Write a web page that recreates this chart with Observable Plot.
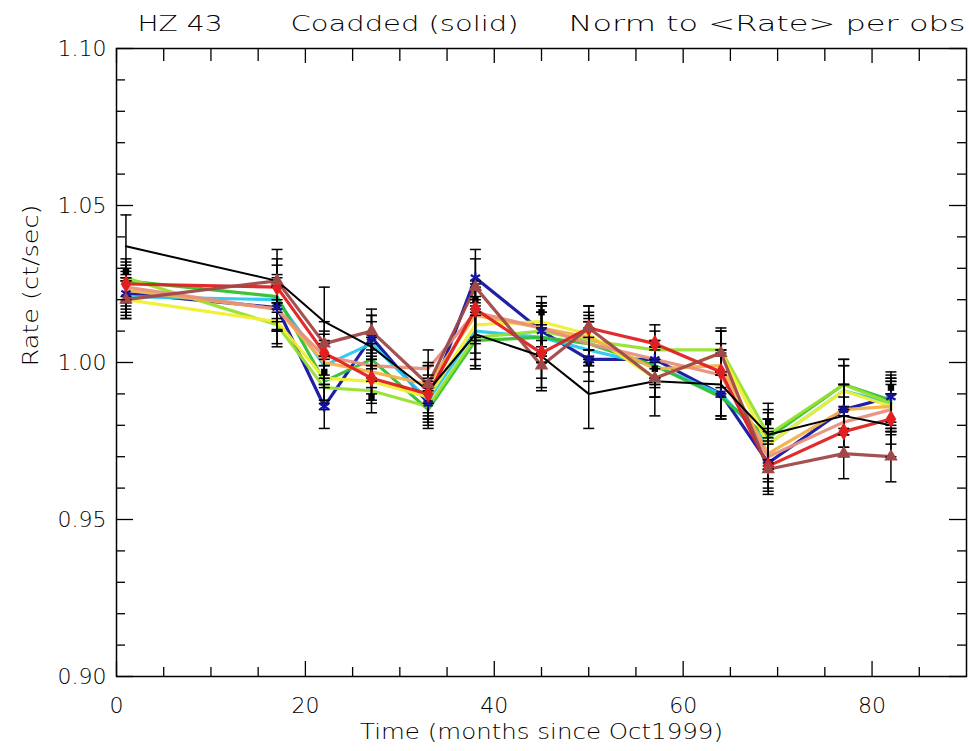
<!DOCTYPE html>
<html>
<head>
<meta charset="utf-8">
<script src="https://cdn.jsdelivr.net/npm/d3@7"></script>
<script src="https://cdn.jsdelivr.net/npm/@observablehq/plot@0.6"></script>
<style>
  html, body { margin: 0; padding: 0; background: #fff; }
  svg text { white-space: pre; }
</style>
</head>
<body>
<div id="chart"></div>
<script>
// ---- data ----
const months = [1, 17, 22, 27, 33, 38, 45, 50, 57, 64, 69, 77, 82];

const seriesNames  = ["navy", "cyan", "green", "lime", "yellow", "orange", "salmon", "red", "brown"];
const seriesColors = ["#1414a0", "#28c8ee", "#30c030", "#98e030", "#f0f030", "#f4b048", "#e89080", "#e02020", "#a04848"];

const navyVals   = [1.022, 1.0175, 0.986, 1.008, 0.987, 1.027, 1.010, 1.001, 1.001, 0.990, 0.968, 0.985, 0.989];
const cyanVals   = [1.021, 1.020, 0.999, 1.006, 0.988, 1.010, 1.008, 1.004, 0.999, 0.990, 0.974, 0.991, 0.987];
const greenVals  = [1.026, 1.021, 0.994, 1.001, 0.985, 1.007, 1.008, 1.006, 0.999, 0.989, 0.976, 0.993, 0.988];
const limeVals   = [1.027, 1.012, 0.992, 0.991, 0.986, 1.008, 1.010, 1.007, 1.004, 1.004, 0.977, 0.993, 0.987];
const yellowVals = [1.020, 1.013, 0.995, 0.994, 0.989, 1.012, 1.013, 1.009, 0.995, 1.003, 0.974, 0.991, 0.986];
const orangeVals = [1.023, 1.017, 1.000, 0.997, 0.993, 1.015, 1.011, 1.008, 0.998, 0.999, 0.971, 0.985, 0.986];
const salmonVals = [1.024, 1.017, 1.002, 0.999, 0.998, 1.016, 1.011, 1.006, 1.001, 0.996, 0.970, 0.981, 0.985];
const redVals    = [1.025, 1.024, 1.003, 0.995, 0.990, 1.017, 1.003, 1.011, 1.006, 0.997, 0.967, 0.978, 0.982];
const brownVals  = [1.020, 1.026, 1.006, 1.010, 0.993, 1.024, 0.999, 1.011, 0.995, 1.003, 0.966, 0.971, 0.970];

const coaddVals  = [1.037, 1.026, 1.013, 1.005, 0.991, 1.009, 1.002, 0.990, 0.994, 0.993, 0.977, 0.983, 0.980];
const squareVals = [1.029, 1.018, 0.997, 0.989, 0.987, 1.020, 1.016, 1.000, 0.998, 0.990, 0.981, 0.985, 0.992];

const seriesErr  = [0.006, 0.007, 0.007, 0.007, 0.006, 0.009, 0.008, 0.007, 0.006, 0.007, 0.008, 0.008, 0.008];
const coaddErr   = [0.010, 0.010, 0.011, 0.010, 0.009, 0.011, 0.010, 0.011, 0.011, 0.011, 0.010, 0.010, 0.010];

const xMajor = [0, 20, 40, 60, 80];
const xMinor = [5, 10, 15, 25, 30, 35, 45, 50, 55, 65, 70, 75, 85];
const yMajor = [0.90, 0.95, 1.00, 1.05, 1.10];
const yMinor = [0.91, 0.92, 0.93, 0.94, 0.96, 0.97, 0.98, 0.99, 1.01, 1.02, 1.03, 1.04, 1.06, 1.07, 1.08, 1.09];

const titleParts = ["HZ 43", "Coadded (solid)", "Norm to <Rate> per obs"];
const xLabel = "Time (months since Oct1999)";
const yLabel = "Rate (ct/sec)";

// ---- build rows ----
const allVals = [navyVals, cyanVals, greenVals, limeVals, yellowVals, orangeVals, salmonVals, redVals, brownVals];
const rows = [];
allVals.forEach((vals, i) => vals.forEach((v, j) => rows.push({series: seriesNames[i], x: months[j], v, e: seriesErr[j]})));
const coadd = coaddVals.map((v, j) => ({series: "coadd", x: months[j], v, e: coaddErr[j]}));
const squares = squareVals.map((v, j) => ({x: months[j], v}));
const errRows = rows.concat(coadd);

const W = 969, H = 751, mL = 116, mR = 3, mT = 48, mB = 75;
const PW = W - mL - mR, PH = H - mT - mB;

const cap = {draw(ctx, size) { const r = Math.sqrt(size / Math.PI); ctx.moveTo(-r, 0); ctx.lineTo(r, 0); }};

const marks = [];
seriesNames.forEach((s, i) => {
  marks.push(Plot.line(rows.filter(d => d.series === s), {x: "x", y: "v", stroke: seriesColors[i], strokeWidth: 3.2, strokeOpacity: 0.95}));
});
marks.push(Plot.line(coadd, {x: "x", y: "v", stroke: "black", strokeWidth: 2}));
marks.push(Plot.ruleX(errRows, {x: "x", y1: d => d.v - d.e, y2: d => d.v + d.e, stroke: "black", strokeWidth: 1.5}));
marks.push(Plot.dot(errRows, {x: "x", y: d => d.v - d.e, symbol: cap, r: 5.5, stroke: "black", strokeWidth: 1.5}));
marks.push(Plot.dot(errRows, {x: "x", y: d => d.v + d.e, symbol: cap, r: 5.5, stroke: "black", strokeWidth: 1.5}));
marks.push(Plot.dot(squares, {x: "x", y: "v", symbol: "square", r: 3.6, fill: "black"}));
marks.push(Plot.dot(rows.filter(d => d.series === "navy"), {x: "x", y: "v", symbol: "asterisk", r: 5, stroke: "#1414a0", strokeWidth: 2.2}));
marks.push(Plot.dot(rows.filter(d => d.series === "red"), {x: "x", y: "v", symbol: "diamond", r: 5.5, fill: "#e02020"}));
marks.push(Plot.dot(rows.filter(d => d.series === "brown"), {x: "x", y: "v", symbol: "triangle", r: 5, fill: "#a04848"}));

marks.push(Plot.frame({stroke: "black", strokeWidth: 1.5}));
marks.push(Plot.tickX(xMajor, {x: d => d, insetTop: PH - 15, stroke: "black", strokeWidth: 1.3}));
marks.push(Plot.tickX(xMinor, {x: d => d, insetTop: PH - 9, stroke: "black", strokeWidth: 1.3}));
marks.push(Plot.tickX(xMajor, {x: d => d, insetBottom: PH - 15, stroke: "black", strokeWidth: 1.3}));
marks.push(Plot.tickX(xMinor, {x: d => d, insetBottom: PH - 13, stroke: "black", strokeWidth: 1.3}));
marks.push(Plot.tickY(yMajor, {y: d => d, insetRight: PW - 17, stroke: "black", strokeWidth: 1.3}));
marks.push(Plot.tickY(yMinor, {y: d => d, insetRight: PW - 9, stroke: "black", strokeWidth: 1.3}));
marks.push(Plot.tickY(yMajor, {y: d => d, insetLeft: PW - 17, stroke: "black", strokeWidth: 1.3}));
marks.push(Plot.tickY(yMinor, {y: d => d, insetLeft: PW - 9, stroke: "black", strokeWidth: 1.3}));

marks.push(Plot.axisX(xMajor, {anchor: "bottom", tickSize: 0, tickPadding: 21, fill: "black", label: null}));
marks.push(Plot.axisY(yMajor, {anchor: "left", tickSize: 0, tickPadding: 10, tickFormat: d3.format(".2f"), fill: "black", label: null}));

marks.push(Plot.text([xLabel], {text: d => d, frameAnchor: "bottom", dy: 62, fill: "black"}));
marks.push(Plot.text([yLabel], {text: d => d, frameAnchor: "left", dx: -86, dy: 4, rotate: -90, fill: "black"}));

const titleOffsets = [21, 174, 452];
titleParts.forEach((t, i) => {
  marks.push(Plot.text([t], {text: d => d, frameAnchor: "top-left", textAnchor: "start", dx: titleOffsets[i], dy: -33, fill: "black"}));
});

const chart = Plot.plot({
  width: W, height: H,
  marginLeft: mL, marginRight: mR, marginTop: mT, marginBottom: mB,
  x: {domain: [0, 90], axis: null},
  y: {domain: [0.90, 1.10], axis: null},
  style: {fontFamily: "DejaVu Sans", fontWeight: 200, fontSize: "22px", background: "white", overflow: "visible"},
  marks
});
document.getElementById("chart").appendChild(chart);
// stretch texts to the widths seen in the reference (wide plotter-style glyphs)
const textLengths = new Map([[titleParts[0], 85], [titleParts[1], 228], [titleParts[2], 397], [xLabel, 363], [yLabel, 162]]);
d3.select(chart).selectAll("text").each(function() {
  const len = textLengths.get(this.textContent);
  if (len) d3.select(this).attr("textLength", len).attr("lengthAdjust", "spacingAndGlyphs");
});
</script>
</body>
</html>
